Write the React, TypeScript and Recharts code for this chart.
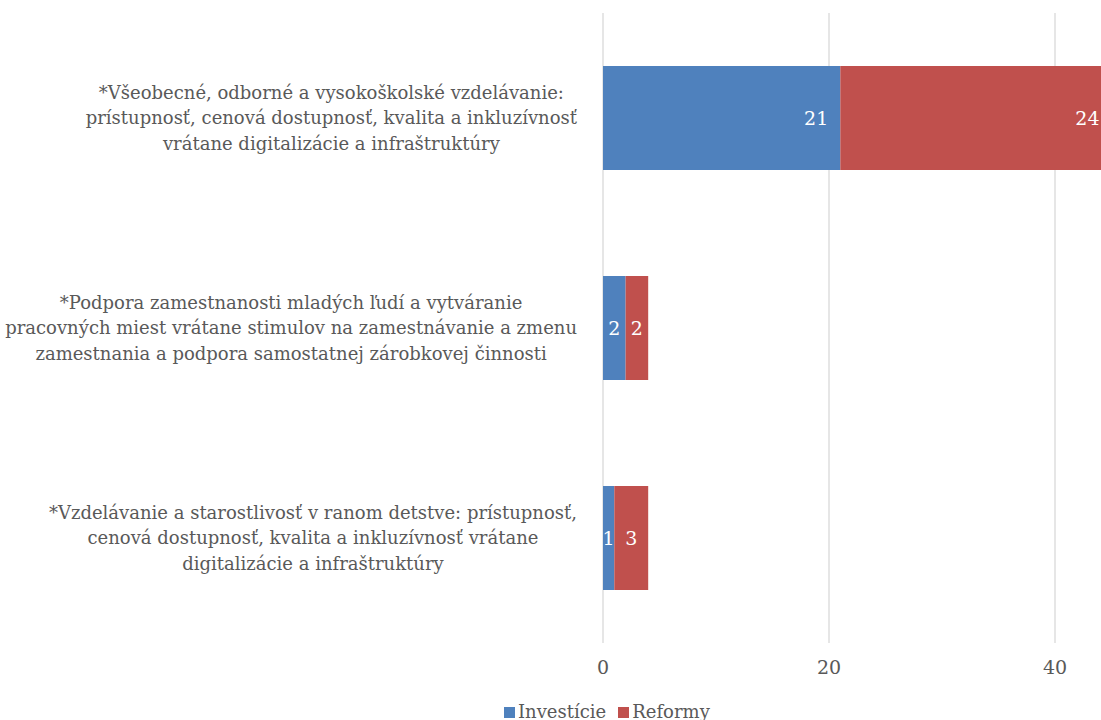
import React from 'react';
import { BarChart, Bar, XAxis, YAxis, CartesianGrid, Legend, LabelList } from 'recharts';

const categories = [
  [
    '*Všeobecné, odborné a vysokoškolské vzdelávanie:',
    'prístupnosť, cenová dostupnosť, kvalita a inkluzívnosť',
    'vrátane digitalizácie a infraštruktúry',
  ],
  [
    '*Podpora zamestnanosti mladých ľudí a vytváranie',
    'pracovných miest vrátane stimulov na zamestnávanie a zmenu',
    'zamestnania a podpora samostatnej zárobkovej činnosti',
  ],
  [
    '*Vzdelávanie a starostlivosť v ranom detstve: prístupnosť,',
    'cenová dostupnosť, kvalita a inkluzívnosť vrátane',
    'digitalizácie a infraštruktúry',
  ],
];
const investicie = [21, 2, 1];
const reformy = [24, 2, 3];
const xTicks = [0, 20, 40, 60];

const data = categories.map((lines, i) => ({
  name: lines.join('\n'),
  investicie: investicie[i],
  reformy: reformy[i],
}));

const FONT = '"DejaVu Serif", serif';
const TEXT = '#595959';
const BLUE = '#4F81BD';
const RED = '#C0504D';
const NUM_SIZE = 19;
const LABEL_SIZE = 18;

let ctx: CanvasRenderingContext2D | null = null;
function measure(text: string, size: number) {
  if (!ctx) ctx = document.createElement('canvas').getContext('2d');
  if (!ctx) return text.length * size * 0.55;
  ctx.font = `${size}px ${FONT}`;
  return ctx.measureText(text).width;
}

const CategoryTick = (props: any) => {
  const { x, y, payload } = props;
  const lines: string[] = String(payload.value).split('\n');
  const lh = 25.5;
  const maxW = Math.max(...lines.map((l) => measure(l, LABEL_SIZE)));
  const cx = x - maxW / 2;
  return (
    <g>
      {lines.map((l, i) => (
        <text
          key={i}
          x={cx}
          y={y + (i - (lines.length - 1) / 2) * lh + 6}
          textAnchor="middle"
          fill={TEXT}
          fontFamily={FONT}
          fontSize={LABEL_SIZE}
        >
          {l}
        </text>
      ))}
    </g>
  );
};

const BarLabel = (props: any) => {
  const { x, y, width, height, value } = props;
  const pad = 12;
  const tw = measure(String(value), NUM_SIZE);
  const fits = width >= tw + pad * 2;
  return (
    <text
      x={fits ? x + width - pad : x + width / 2}
      y={y + height / 2}
      textAnchor={fits ? 'end' : 'middle'}
      dominantBaseline="central"
      fill="#fff"
      fontFamily={FONT}
      fontSize={NUM_SIZE}
    >
      {value}
    </text>
  );
};

const renderLegend = (props: any) => {
  const { payload } = props;
  return (
    <div style={{ display: 'flex', paddingLeft: 504, height: 24, alignItems: 'center' }}>
      {payload.map((entry: any) => (
        <div key={entry.value} style={{ display: 'flex', alignItems: 'center', marginRight: 12 }}>
          <span style={{ width: 11, height: 11, background: entry.color, display: 'inline-block', marginRight: 3 }} />
          <span style={{ color: TEXT, fontSize: LABEL_SIZE, fontFamily: FONT, lineHeight: '24px' }}>{entry.value}</span>
        </div>
      ))}
    </div>
  );
};

export default function App() {
  return (
    <div style={{ position: 'absolute', left: 0, top: 0, width: 1101, height: 720, overflow: 'hidden', background: '#fff' }}>
      <BarChart
        width={1301}
        height={724}
        data={data}
        layout="vertical"
        margin={{ top: 13, right: 20, bottom: 0, left: 0 }}
      >
        <CartesianGrid horizontal={false} stroke="#D9D9D9" strokeWidth={1.3} />
        <XAxis
          type="number"
          domain={[0, 60]}
          ticks={xTicks}
          axisLine={false}
          tickLine={false}
          tickMargin={12}
          height={57}
          tick={{ fill: TEXT, fontSize: NUM_SIZE, fontFamily: FONT }}
        />
        <YAxis
          type="category"
          dataKey="name"
          width={603}
          axisLine={false}
          tickLine={false}
          tickSize={0}
          tickMargin={26}
          tick={<CategoryTick />}
          interval={0}
        />
        <Legend verticalAlign="bottom" height={24} content={renderLegend} />
        <Bar dataKey="investicie" name="Investície" stackId="a" fill={BLUE} barSize={104} isAnimationActive={false}>
          <LabelList dataKey="investicie" content={<BarLabel />} />
        </Bar>
        <Bar dataKey="reformy" name="Reformy" stackId="a" fill={RED} barSize={104} isAnimationActive={false}>
          <LabelList dataKey="reformy" content={<BarLabel />} />
        </Bar>
      </BarChart>
    </div>
  );
}
